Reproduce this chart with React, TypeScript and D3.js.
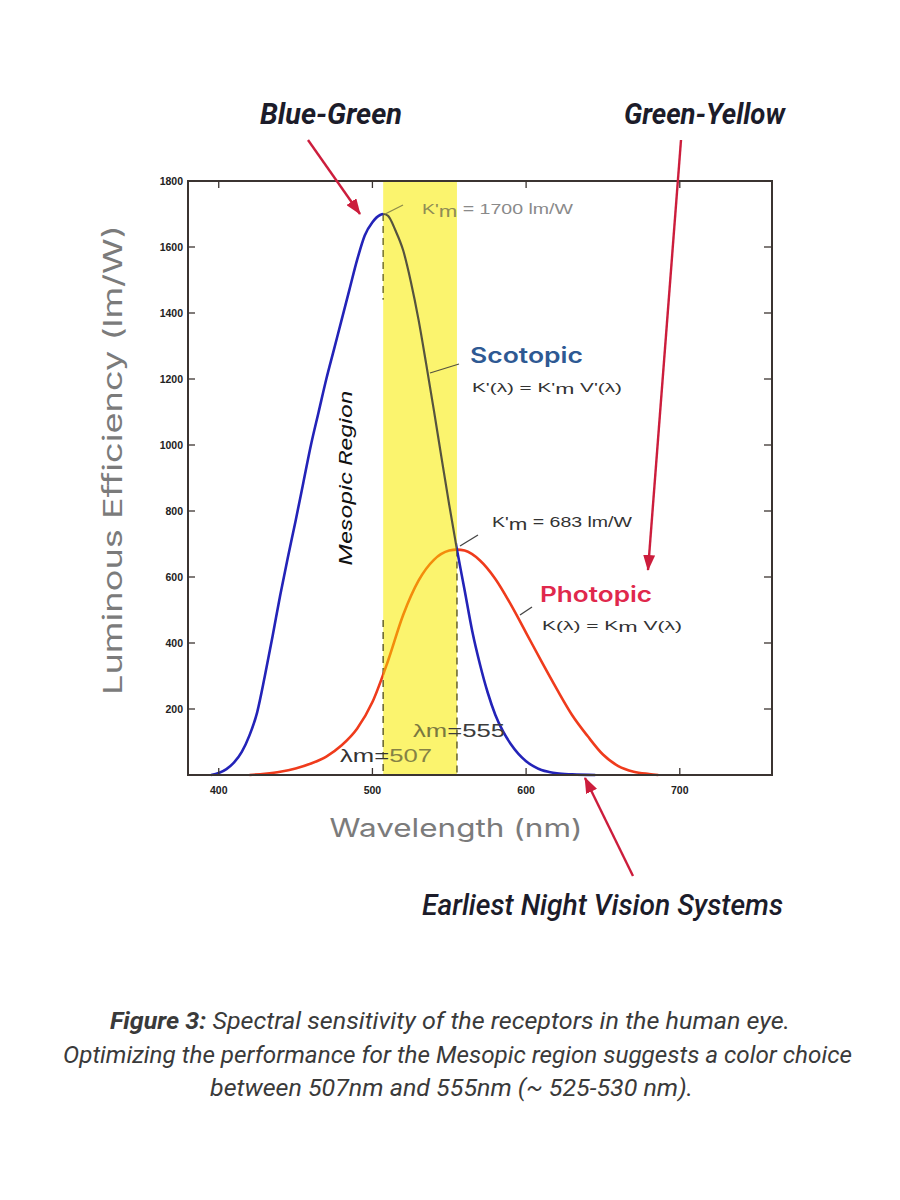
import React from 'react';
import * as d3 from 'd3';

// Scotopic curve K'(λ) (lm/W)
const scotopicNm = [395, 400, 405, 410, 415, 420, 425, 430, 435, 440, 445, 450, 455, 460, 465, 470, 475, 480, 485, 490, 495, 500, 505, 507, 510, 515, 520, 525, 530, 535, 540, 545, 550, 555, 560, 565, 570, 575, 580, 585, 590, 595, 600, 605, 610, 615, 620, 630, 645];
const scotopicLmW = [0, 6, 18, 38, 70, 120, 190, 300, 420, 545, 660, 770, 885, 1000, 1100, 1200, 1290, 1380, 1470, 1560, 1635, 1675, 1697, 1700, 1695, 1650, 1590, 1495, 1380, 1245, 1105, 960, 818, 683, 560, 435, 335, 250, 182, 132, 94, 64, 42, 26, 15, 9, 5, 2, 0];

// Photopic curve K(λ) (lm/W)
const photopicNm = [420, 430, 440, 450, 460, 470, 480, 490, 500, 510, 520, 530, 540, 550, 555, 560, 570, 580, 590, 600, 610, 620, 630, 640, 650, 660, 670, 680, 686];
const photopicLmW = [0, 4, 10, 20, 35, 56, 90, 140, 221, 344, 485, 589, 652, 680, 683, 680, 650, 594, 517, 431, 344, 260, 181, 118, 62, 27, 10, 3, 0];

const xTicks = [400, 500, 600, 700];
const yTicks = [200, 400, 600, 800, 1000, 1200, 1400, 1600, 1800];
const mesopicBand = [507, 555];
const scotopicPeak = [507, 1700];
const photopicPeak = [555, 683];

export default function App() {
  const left = 188, right = 772, top = 181, bottom = 775;
  const x = d3.scaleLinear().domain([380, 760]).range([left, right]);
  const y = d3.scaleLinear().domain([0, 1800]).range([bottom, top]);
  const line = d3.line<[number, number]>().x(d => x(d[0])).y(d => y(d[1])).curve(d3.curveMonotoneX);
  const scot = line(scotopicNm.map((n, i) => [n, scotopicLmW[i]] as [number, number])) || '';
  const phot = line(photopicNm.map((n, i) => [n, photopicLmW[i]] as [number, number])) || '';
  const bx0 = x(mesopicBand[0]), bx1 = x(mesopicBand[1]);
  const tickFont = { fontFamily: 'Liberation Sans, Arial, sans-serif', fontSize: 10.5, fontWeight: 700, fill: '#222' } as const;
  const condensed = 'Roboto, "Liberation Sans Narrow", sans-serif';
  const labelFont = 'Inter, Roboto, sans-serif';
  const arrowColor = '#cc1d3c';

  return (
    <svg width={900} height={1200} style={{ position: 'absolute', left: 0, top: 0, background: '#fff' }}>
      <defs>
        <clipPath id="inBand">
          <rect x={bx0} y={top} width={bx1 - bx0} height={bottom - top} />
        </clipPath>
        <clipPath id="outBand">
          <rect x={0} y={0} width={bx0} height={1200} />
          <rect x={bx1} y={0} width={900 - bx1} height={1200} />
        </clipPath>
        <marker id="head" viewBox="0 0 16 12" refX={15} refY={6} markerWidth={16} markerHeight={12} markerUnits="userSpaceOnUse" orient="auto">
          <path d="M0,0 L16,6 L0,12 z" fill={arrowColor} />
        </marker>
      </defs>
      <rect x={0} y={0} width={900} height={1200} fill="#fff" />

      {/* Mesopic band */}
      <rect x={bx0} y={top} width={bx1 - bx0} height={bottom - top} fill="#fbf46e" />

      {/* dashed verticals */}
      <line x1={x(scotopicPeak[0])} x2={x(scotopicPeak[0])} y1={y(1700)} y2={y(1440)} stroke="#7d7a35" strokeWidth={1.6} strokeDasharray="7,5" />
      <line x1={x(scotopicPeak[0])} x2={x(scotopicPeak[0])} y1={y(470)} y2={y(0)} stroke="#6e6b35" strokeWidth={1.6} strokeDasharray="7,5" />
      <line x1={x(photopicPeak[0])} x2={x(photopicPeak[0])} y1={y(photopicPeak[1])} y2={y(0)} stroke="#6e6b35" strokeWidth={1.6} strokeDasharray="7,5" />

      {/* curves */}
      <g clipPath="url(#outBand)">
        <path d={phot} fill="none" stroke="#ef3b1c" strokeWidth={2.6} />
        <path d={scot} fill="none" stroke="#2323b8" strokeWidth={2.6} />
      </g>
      <g clipPath="url(#inBand)">
        <path d={phot} fill="none" stroke="#f38c0c" strokeWidth={2.6} />
        <path d={scot} fill="none" stroke="#55533f" strokeWidth={2.2} />
      </g>

      {/* frame */}
      <rect x={left} y={top} width={right - left} height={bottom - top} fill="none" stroke="#3b3431" strokeWidth={2} />
      {yTicks.map(t => (
        <g key={'y' + t}>
          <line x1={left} x2={left + 7} y1={y(t)} y2={y(t)} stroke="#3b3431" strokeWidth={1.3} />
          <line x1={right} x2={right - 8} y1={y(t)} y2={y(t)} stroke="#3b3431" strokeWidth={1.3} />
          <text x={left - 5} y={y(t) + 4} textAnchor="end" {...tickFont}>{t}</text>
        </g>
      ))}
      {xTicks.map(t => (
        <g key={'x' + t}>
          <line x1={x(t)} x2={x(t)} y1={bottom} y2={bottom - 7} stroke="#3b3431" strokeWidth={1.3} />
          <line x1={x(t)} x2={x(t)} y1={top} y2={top + 7} stroke="#3b3431" strokeWidth={1.3} />
          <text x={x(t)} y={bottom + 19} textAnchor="middle" {...tickFont}>{t}</text>
        </g>
      ))}

      {/* axis titles */}
      <text transform="translate(122,460) rotate(-90)" textAnchor="middle" fontFamily={labelFont} fontSize={26} fill="#7b7b7b" textLength={470} lengthAdjust="spacingAndGlyphs">Luminous Efficiency (lm/W)</text>
      <text x={456} y={837} textAnchor="middle" fontFamily={labelFont} fontSize={25} fill="#7b7b7b" textLength={253} lengthAdjust="spacingAndGlyphs">Wavelength (nm)</text>

      {/* Mesopic region label */}
      <text transform="translate(352,478) rotate(-90)" textAnchor="middle" fontFamily={condensed} fontStyle="italic" fontSize={19} fill="#111" textLength={175} lengthAdjust="spacingAndGlyphs">Mesopic Region</text>

      {/* K'm = 1700 */}
      <line x1={x(scotopicPeak[0]) + 2} y1={y(scotopicPeak[1])} x2={403} y2={205} stroke="#8d8a4a" strokeWidth={1.3} />
      <text x={422} y={214} fontFamily="'Liberation Sans', sans-serif" fontSize={14} fill="#8f8c55" textLength={151} lengthAdjust="spacingAndGlyphs">
        K'<tspan dy={3} fontSize={16}>m</tspan><tspan dy={-3} fill="#8a8a8a"> = 1700 lm/W</tspan>
      </text>

      {/* Scotopic */}
      <line x1={430} y1={373} x2={459} y2={364} stroke="#55533f" strokeWidth={1.3} />
      <text x={470} y={363} fontFamily={labelFont} fontWeight={600} fontSize={21} fill="#2e5993" textLength={113} lengthAdjust="spacingAndGlyphs">Scotopic</text>
      <text x={472} y={392} fontFamily="'Liberation Sans', sans-serif" fontSize={13.5} fill="#333" textLength={150} lengthAdjust="spacingAndGlyphs">
        K'(λ) = K'<tspan dy={2} fontSize={15}>m</tspan><tspan dy={-2}> V'(λ)</tspan>
      </text>

      {/* K'm = 683 */}
      <line x1={460} y1={546} x2={478} y2={535} stroke="#444" strokeWidth={1.3} />
      <text x={492} y={527} fontFamily="'Liberation Sans', sans-serif" fontSize={14} fill="#333" textLength={140} lengthAdjust="spacingAndGlyphs">
        K'<tspan dy={3} fontSize={16}>m</tspan><tspan dy={-3}> = 683 lm/W</tspan>
      </text>

      {/* Photopic */}
      <line x1={520} y1={615} x2={532} y2={607} stroke="#444" strokeWidth={1.3} />
      <text x={540} y={602} fontFamily={labelFont} fontWeight={600} fontSize={21} fill="#e0284c" textLength={112} lengthAdjust="spacingAndGlyphs">Photopic</text>
      <text x={542} y={630} fontFamily="'Liberation Sans', sans-serif" fontSize={13.5} fill="#333" textLength={140} lengthAdjust="spacingAndGlyphs">
        K(λ) = K<tspan dy={2} fontSize={15}>m</tspan><tspan dy={-2}> V(λ)</tspan>
      </text>

      {/* λm labels */}
      <text x={413} y={737} fontFamily="'Liberation Sans', sans-serif" fontSize={19} textLength={92} lengthAdjust="spacingAndGlyphs">
        <tspan fill="#7a7840">λm</tspan><tspan fill="#3c3c3c">=555</tspan>
      </text>
      <text x={340} y={762} fontFamily="'Liberation Sans', sans-serif" fontSize={19} textLength={92} lengthAdjust="spacingAndGlyphs">
        <tspan fill="#333">λm=</tspan><tspan fill="#858245">507</tspan>
      </text>

      {/* annotation arrows */}
      <line x1={308} y1={140} x2={360} y2={214} stroke={arrowColor} strokeWidth={2.4} markerEnd="url(#head)" />
      <line x1={681} y1={140} x2={648} y2={570} stroke={arrowColor} strokeWidth={2.4} markerEnd="url(#head)" />
      <line x1={633} y1={876} x2={585} y2={778} stroke={arrowColor} strokeWidth={2.4} markerEnd="url(#head)" />

      <text x={260} y={124} fontFamily={condensed} fontStyle="italic" fontWeight={700} fontSize={30} fill="#1c1c2a" textLength={142} lengthAdjust="spacingAndGlyphs">Blue-Green</text>
      <text x={624} y={124} fontFamily={condensed} fontStyle="italic" fontWeight={700} fontSize={30} fill="#1c1c2a" textLength={161} lengthAdjust="spacingAndGlyphs">Green-Yellow</text>
      <text x={422} y={915} fontFamily={condensed} fontStyle="italic" fontWeight={500} fontSize={30} fill="#1c1c2a" textLength={361} lengthAdjust="spacingAndGlyphs">Earliest Night Vision Systems</text>

      {/* caption */}
      <text x={110} y={1029} fontFamily={condensed} fontStyle="italic" fontSize={24} fill="#3a3a3a" textLength={680} lengthAdjust="spacingAndGlyphs">
        <tspan fontWeight={700}>Figure 3:</tspan> Spectral sensitivity of the receptors in the human eye.
      </text>
      <text x={63} y={1063} fontFamily={condensed} fontStyle="italic" fontSize={24} fill="#3a3a3a" textLength={789} lengthAdjust="spacingAndGlyphs">Optimizing the performance for the Mesopic region suggests a color choice</text>
      <text x={210} y={1096} fontFamily={condensed} fontStyle="italic" fontSize={24} fill="#3a3a3a" textLength={483} lengthAdjust="spacingAndGlyphs">between 507nm and 555nm (~ 525-530 nm).</text>
    </svg>
  );
}
